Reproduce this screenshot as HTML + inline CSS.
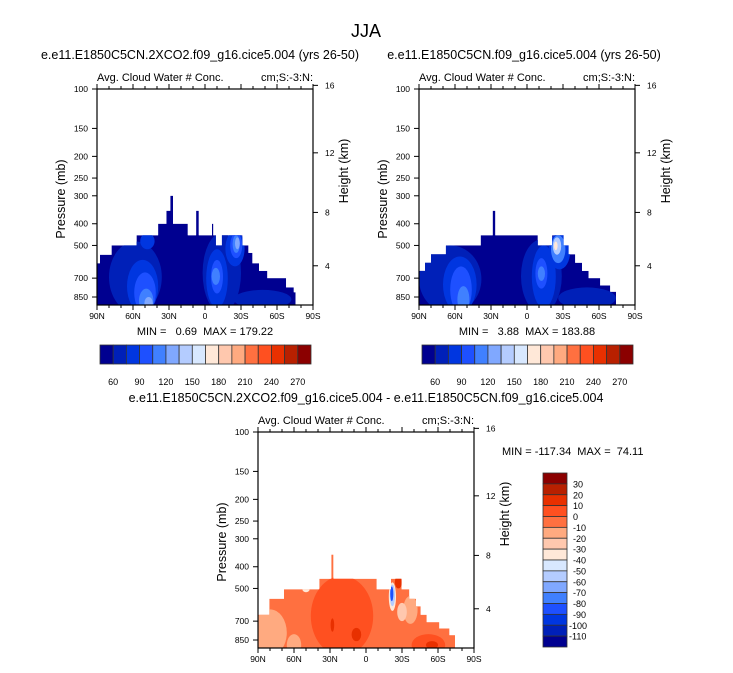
<!DOCTYPE html>
<html><head><meta charset="utf-8"><style>
html,body{margin:0;padding:0;background:#fff;}
svg{display:block;font-family:"Liberation Sans",Arial,sans-serif;}
text{white-space:pre;}
</style></head><body>
<svg id="fig" width="733" height="673" viewBox="0 0 733 673" xmlns="http://www.w3.org/2000/svg">
<text x="366" y="37" font-size="18" text-anchor="middle">JJA</text>
</svg>
<script>
// ---- data ----
const palette = ['#000090','#0020b8','#0036e0','#1e50ff','#4080ff','#80a8ff','#b4ccff','#d8e8ff','#ffe8d8','#ffc8ae','#ffaa80','#ff7040','#ff5020','#e83000','#b82000','#8b0000'];
const topLevels = [60,75,90,105,120,135,150,165,180,195,210,225,240,255,270];
const diffLevels = [30,20,10,0,-10,-20,-30,-40,-50,-60,-70,-80,-90,-100,-110];
const latTicks = [90,60,30,0,-30,-60,-90];
const latTickLabels = ['90N','60N','30N','0','30S','60S','90S'];
const presTicks = [100,150,200,250,300,400,500,700,850];
const kmTicks = [4,8,12,16];

// left panel (2XCO2)
const leftLatStarts = [90,87.5,77.8,57,39.1,32.2,28.9,26.7,14.3,7.4,5.2,-5.8,-6.9,-9.1,-14.1,-31.2,-36.2,-39.5,-45,-51.9,-67.6,-74];
const leftTops =      [600,550,500,450,400,350,300,400,450,350,450,400,450,500,450,500,540,600,650,700,770,810];
const leftEnd = -75.4;
const leftBlobs = [
 [58,22,480,1000,1],[-14,16,440,1000,1],[-48,24,790,960,1],
 [52,13,580,1000,2],[-10,9,520,950,2],[-25,8,430,620,2],[48,6,440,520,2],
 [50,9,660,1000,3],[-10,5,580,820,3],[-26,5,440,570,3],
 [49,6,780,1000,4],[-9,3.5,630,750,4],[-26,3,450,540,4],
 [47,3.5,850,960,5],[-27,2,460,520,5]];
// right panel (control)
const rightLatStarts = [90,85,80,67.6,38.6,28.6,26.4,-9,-20.9,-30.5,-34.7,-40.2,-45.8,-51.3,-61,-69.3];
const rightTops =      [650,597,548,500,450,350,450,500,450,500,548,597,650,700,755,805];
const rightEnd = -74.2;
const rightBlobs = [
 [64,26,500,1000,1],[-12,17,470,1000,1],[-50,24,770,960,1],
 [56,14,560,1000,2],[-14,10,500,950,2],[-27,9,440,640,2],
 [55,9,620,1000,3],[-12,5,570,780,3],[-26,6,450,600,4],
 [53,5,760,1000,4],[-12,3,620,720,4],[-25,3.5,460,550,6],[-24,1.5,480,525,8]];
// difference panel
const diffLatStarts = [90,80.6,68.3,38.9,28.9,27.2,-8.9,-20.8,-29.7,-36.1,-41.7,-45.6,-50.6,-61.1,-69.5];
const diffTops =      [655,556,504,453,353,453,504,453,504,556,600,655,707,755,808];
const diffEnd = -74.2;
const diffBlobs = [
 [20,26,440,1000,12],[-52,14,800,1000,12],
 [80,14,620,1000,10],[60,6,800,1000,10],[-37,6,540,720,10],[-30,4,580,700,9],[50,3,490,520,8],
 [8,4,750,860,13],[-55,5,860,930,13],[28,1.5,680,780,13],
 [-27,3,440,500,13],[-22,3,470,630,8],[-22,2.2,480,600,6],[-21.5,1.3,490,570,3]];

const NS='http://www.w3.org/2000/svg';
const svg=document.getElementById('fig');
function mk(tag,attrs,parent){const e=document.createElementNS(NS,tag);for(const k in attrs)e.setAttribute(k,attrs[k]);(parent||svg).appendChild(e);return e;}
function txt(s,attrs,parent){const e=mk('text',attrs,parent);e.textContent=s;return e;}
const PW=216,PH=216,K=97.2;
function kmToP(h){return 1013.25*Math.pow(1-2.25577e-5*h*1000,5.25588);}

function drawPanel(id,x0,y0,starts,tops,endLat,blobs,baseIdx,title,titleX){
  const g=mk('g',{});
  
  
  const xs=lat=>x0+(90-lat)/180*PW;
  const ys=p=>y0+Math.log(p/100)*K;
  const yb=y0+PH;
  if(title){const t=txt(title,{x:titleX,y:y0-30,'font-size':12.5,'text-anchor':'middle'},g);
    }
  const st=txt('Avg. Cloud Water # Conc.',{x:x0,y:y0-8,'font-size':11},g);
  
  const un=txt('cm;S:-3:N:',{x:x0+PW,y:y0-8,'font-size':11,'text-anchor':'end'},g);
  
  let pts=[[xs(starts[0]),yb]];
  for(let i=0;i<starts.length;i++){
    const a=starts[i],b=(i+1<starts.length)?starts[i+1]:endLat;
    pts.push([xs(a),ys(tops[i])]);pts.push([xs(b),ys(tops[i])]);
  }
  pts.push([xs(endLat),yb]);
  const d='M'+pts.map(p=>p[0].toFixed(1)+','+p[1].toFixed(1)).join('L')+'Z';
  const cp=mk('clipPath',{id:id+'-clip'},g);
  mk('path',{d:d},cp);
  const fg=mk('g',{'clip-path':'url(#'+id+'-clip)'},g);
  const base=mk('path',{d:d,fill:palette[baseIdx]},fg);
  
  
  blobs.forEach(b=>{
    const cx=xs(b[0]),rx=b[1]/180*PW,yt=ys(b[2]),ybt=ys(b[3]);
    const e=mk('ellipse',{cx:cx,cy:(yt+ybt)/2,rx:rx,ry:(ybt-yt)/2,fill:palette[b[4]]},fg);
    
    
  });
  const fr=mk('rect',{x:x0,y:y0,width:PW,height:PH,fill:'none',stroke:'#000','stroke-width':1.2},g);
  
  for(let lat=90;lat>=-90;lat-=10){
    const maj=lat%30===0,L=maj?5:3,x=xs(lat);
    mk('line',{x1:x,x2:x,y1:yb,y2:yb+L,stroke:'#000'},g);
    mk('line',{x1:x,x2:x,y1:y0,y2:y0-L,stroke:'#000'},g);
  }
  latTicks.forEach((lat,i)=>{
    const t=txt(latTickLabels[i],{x:xs(lat),y:yb+14,'font-size':8.5,'text-anchor':'middle'},g);
    
  });
  presTicks.forEach(p=>{
    const y=ys(p);
    mk('line',{x1:x0-5,x2:x0,y1:y,y2:y,stroke:'#000'},g);
    const t=txt(String(p),{x:x0-9,y:y+3,'font-size':8.5,'text-anchor':'end'},g);
    
  });
  const yt=txt('Pressure (mb)',{x:0,y:0,'font-size':12.5,'text-anchor':'middle',transform:'translate('+(x0-32)+','+(y0+110)+') rotate(-90)'},g);
  
  kmTicks.forEach(h=>{
    const y=ys(kmToP(h));
    mk('line',{x1:x0+PW,x2:x0+PW+5,y1:y,y2:y,stroke:'#000'},g);
    const t=txt(String(h),{x:x0+PW+12,y:y+3,'font-size':8.5},g);
    
  });
  const ht=txt('Height (km)',{x:0,y:0,'font-size':12.5,'text-anchor':'middle',transform:'translate('+(x0+PW+35)+','+(y0+82)+') rotate(-90)'},g);
  
  return g;
}

function hBar(id,x0,y0){
  const g=mk('g',{});
  
  
  const w=211/16;
  palette.forEach((c,i)=>{
    const r=mk('rect',{x:x0+i*w,y:y0,width:w,height:19,fill:c,stroke:'#333','stroke-width':0.8},g);
    
  });
  topLevels.forEach((v,i)=>{
    if(i%2===0){const t=txt(String(v),{x:x0+(i+1)*w,y:y0+40,'font-size':9,'text-anchor':'middle'},g);
      }
  });
}

drawPanel('left-panel',97,89,leftLatStarts,leftTops,leftEnd,leftBlobs,0,'e.e11.E1850C5CN.2XCO2.f09_g16.cice5.004 (yrs 26-50)',200);
const m1=txt('MIN =   0.69  MAX = 179.22',{x:205,y:335,'font-size':11,'text-anchor':'middle'});

hBar('left-colorbar',100,345);

drawPanel('right-panel',419,89,rightLatStarts,rightTops,rightEnd,rightBlobs,0,'e.e11.E1850C5CN.f09_g16.cice5.004 (yrs 26-50)',524);
const m2=txt('MIN =   3.88  MAX = 183.88',{x:527,y:335,'font-size':11,'text-anchor':'middle'});

hBar('right-colorbar',422,345);

drawPanel('diff-panel',258,432,diffLatStarts,diffTops,diffEnd,diffBlobs,11,'e.e11.E1850C5CN.2XCO2.f09_g16.cice5.004 - e.e11.E1850C5CN.f09_g16.cice5.004',366);
const m3=txt('MIN = -117.34  MAX =  74.11',{x:502,y:455,'font-size':11});


(function(){
  const g=mk('g',{});
  
  
  const x0=543,y0=473,h=174/16;
  for(let i=0;i<16;i++){
    const r=mk('rect',{x:x0,y:y0+i*h,width:24,height:h,fill:palette[15-i],stroke:'#333','stroke-width':0.8},g);
    
  }
  diffLevels.forEach((v,i)=>{
    const t=txt(String(v),{x:v<=-100?569:573,y:y0+(i+1)*h+3.5,'font-size':9},g);
    
  });
})();
</script>
</body></html>
